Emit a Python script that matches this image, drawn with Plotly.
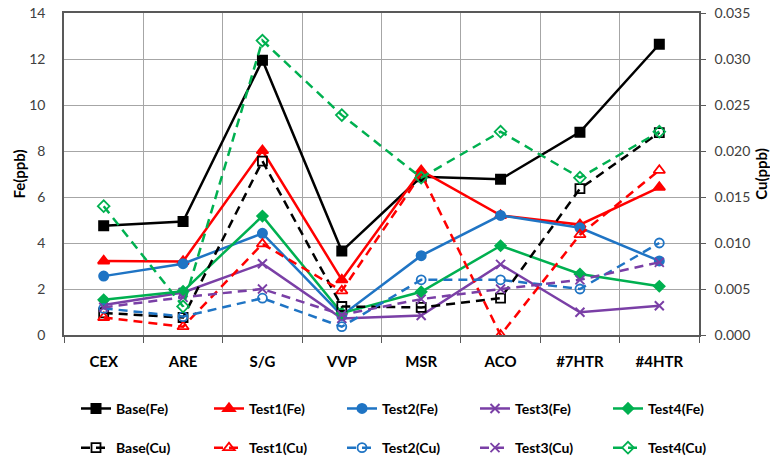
import plotly.graph_objects as go

# Sampling points along the circuit
categories = ["CEX", "ARE", "S/G", "VVP", "MSR", "ACO", "#7HTR", "#4HTR"]

# Fe concentration (ppb), left axis
base_fe = [4.75, 4.93, 11.95, 3.65, 6.88, 6.77, 8.82, 12.64]
test1_fe = [3.22, 3.20, 8.02, 2.40, 7.15, 5.20, 4.80, 6.42]
test2_fe = [2.56, 3.10, 4.42, 0.85, 3.45, 5.20, 4.66, 3.22]
test3_fe = [1.30, 1.85, 3.10, 0.72, 0.85, 3.07, 0.99, 1.27]
test4_fe = [1.53, 1.90, 5.17, 0.95, 1.88, 3.88, 2.65, 2.12]

# Cu concentration (ppb), right axis
base_cu = [0.0024, 0.0019, 0.0189, 0.0031, 0.0030, 0.0040, 0.0159, 0.0220]
test1_cu = [0.0019, 0.0009, 0.0099, 0.0048, 0.0175, 0.0000, 0.0109, 0.0179]
test2_cu = [0.0029, 0.0020, 0.0040, 0.0009, 0.0060, 0.0060, 0.0050, 0.0100]
test3_cu = [0.0030, 0.0041, 0.0050, 0.0022, 0.0039, 0.0050, 0.0060, 0.0079]
test4_cu = [0.0140, 0.0031, 0.0320, 0.0239, 0.0171, 0.0221, 0.0171, 0.0221]

BLACK = "#000000"
RED = "#FF0000"
BLUE = "#1F74C4"
PURPLE = "#7A3FA6"
GREEN = "#00B050"

fe_series = [
    ("Base(Fe)", base_fe, BLACK, "square", 9),
    ("Test1(Fe)", test1_fe, RED, "triangle-up", 10),
    ("Test2(Fe)", test2_fe, BLUE, "circle", 9),
    ("Test3(Fe)", test3_fe, PURPLE, "x-thin-open", 9),
    ("Test4(Fe)", test4_fe, GREEN, "diamond", 8),
]
cu_series = [
    ("Base(Cu)", base_cu, BLACK, "square-open", 9),
    ("Test1(Cu)", test1_cu, RED, "triangle-up-open", 10),
    ("Test2(Cu)", test2_cu, BLUE, "circle-open", 9),
    ("Test3(Cu)", test3_cu, PURPLE, "x-thin-open", 9),
    ("Test4(Cu)", test4_cu, GREEN, "diamond-open", 9),
]

# one legend column per test run: Fe entry on top, Cu entry below
legend_ids = ["legend", "legend2", "legend3", "legend4", "legend5"]

fig = go.Figure()

for i, (name, vals, color, symbol, size) in enumerate(fe_series):
    fig.add_trace(go.Scatter(
        x=categories, y=vals, name=name, mode="lines+markers",
        line=dict(color=color, width=2.5),
        marker=dict(symbol=symbol, size=size, color=color,
                    line=dict(color=color, width=2)),
        yaxis="y", legend=legend_ids[i], legendgroup=name,
    ))

for i, (name, vals, color, symbol, size) in enumerate(cu_series):
    fig.add_trace(go.Scatter(
        x=categories, y=vals, name=name, mode="lines+markers",
        line=dict(color=color, width=2.5, dash="9px,6px"),
        marker=dict(symbol=symbol, size=size, color=color,
                    line=dict(color=color, width=1.8)),
        yaxis="y2", legend=legend_ids[i], legendgroup=name,
    ))

FONT = "Lato, 'Open Sans', sans-serif"
plot_w = 770 - 64 - 71
legends = {}
for i, lid in enumerate(legend_ids):
    legends[lid] = dict(
        orientation="v", xanchor="left", yanchor="middle",
        x=(76 - 64 + i * 133) / plot_w, y=-0.290,
        itemwidth=30, tracegroupgap=18,
        font=dict(family=FONT, size=14, color="#000000", weight="bold"),
        bgcolor="rgba(0,0,0,0)", traceorder="grouped",
    )

fig.update_layout(
    width=770, height=460,
    margin=dict(l=64, r=71, t=13, b=125, autoexpand=False),
    paper_bgcolor="white", plot_bgcolor="white",
    font=dict(family=FONT, size=13, color="#404040"),
    showlegend=True,
    **legends,
    xaxis=dict(
        type="category", categoryorder="array", categoryarray=categories,
        range=[-0.5, 7.5], tickson="boundaries",
        showgrid=True, gridcolor="#A6A6A6", gridwidth=1,
        ticks="outside", ticklen=6, tickcolor="#595959",
        showline=True, linecolor="#595959", linewidth=1.5, mirror=True,
        tickfont=dict(family=FONT, size=15, color="#000000", weight="bold"),
        ticklabelstandoff=12,
    ),
    yaxis=dict(
        range=[0, 14], dtick=2, tick0=0,
        showgrid=True, gridcolor="#A6A6A6", gridwidth=1,
        showline=True, linecolor="#595959", linewidth=1.5,
        ticks="", zeroline=False, ticklabelstandoff=14,
        tickfont=dict(family=FONT, size=14, color="#404040"),
        title=dict(text="Fe(ppb)", standoff=0,
                   font=dict(family=FONT, size=15, color="#000000", weight="bold")),
    ),
    yaxis2=dict(
        range=[0, 0.035], dtick=0.005, tick0=0, tickformat=".3f",
        overlaying="y", side="right", showgrid=False,
        showline=True, linecolor="#595959", linewidth=1.5,
        ticks="outside", ticklen=5, tickcolor="#595959", zeroline=False,
        ticklabelstandoff=6,
        tickfont=dict(family=FONT, size=14, color="#404040"),
        title=dict(text="Cu(ppb)", standoff=8,
                   font=dict(family=FONT, size=15, color="#000000", weight="bold")),
    ),
)

fig.write_html("out.html")
